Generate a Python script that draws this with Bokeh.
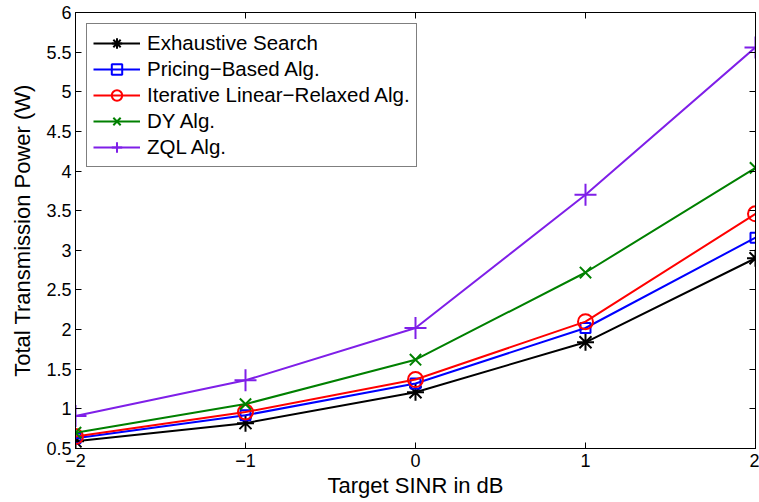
from bokeh.plotting import figure
from bokeh.models import Range1d, LinearAxis, FixedTicker, Legend
from bokeh.embed import file_html
from bokeh.resources import INLINE

x_vals = [-2, -1, 0, 1, 2]
exhaustive = [0.59, 0.82, 1.21, 1.84, 2.90]
pricing = [0.63, 0.92, 1.32, 2.02, 3.16]
iterative = [0.65, 0.96, 1.37, 2.10, 3.46]
dy = [0.70, 1.06, 1.62, 2.72, 4.04]
zql = [0.91, 1.36, 2.02, 3.70, 5.56]

series_names = ["Exhaustive Search", "Pricing\u2212Based Alg.",
                "Iterative Linear\u2212Relaxed Alg.", "DY Alg.", "ZQL Alg."]
x_ticks = [-2, -1, 0, 1, 2]
x_tick_labels = ["\u22122", "\u22121", "0", "1", "2"]
y_ticks = [0.5, 1, 1.5, 2, 2.5, 3, 3.5, 4, 4.5, 5, 5.5, 6]
y_tick_labels = ["0.5", "1", "1.5", "2", "2.5", "3", "3.5", "4", "4.5", "5", "5.5", "6"]

FONT = "Liberation Sans"

p = figure(width=759, height=502, output_backend="svg", toolbar_location=None,
           x_range=Range1d(-2, 2), y_range=Range1d(0.5, 6),
           min_border_left=75, min_border_right=4, min_border_top=12, min_border_bottom=54)
p.xgrid.visible = False
p.ygrid.visible = False
p.outline_line_color = "black"
p.outline_line_width = 1
p.outline_line_alpha = 1
p.background_fill_color = "white"
p.border_fill_color = "white"

for ax, ticks, labels in [(p.xaxis[0], x_ticks, x_tick_labels), (p.yaxis[0], y_ticks, y_tick_labels)]:
    ax.ticker = FixedTicker(ticks=ticks)
    ax.major_label_overrides = {t: l for t, l in zip(ticks, labels)}
    ax.major_tick_in = 6
    ax.major_tick_out = 0
    ax.minor_tick_in = 0
    ax.minor_tick_out = 0
    ax.axis_line_color = "black"
    ax.major_tick_line_color = "black"
    ax.major_label_text_font = FONT
    ax.major_label_text_font_size = "18px"
    ax.major_label_text_color = "black"
    ax.axis_label_text_font = FONT
    ax.axis_label_text_font_size = "22px"
    ax.axis_label_text_font_style = "normal"
    ax.axis_label_text_color = "black"

p.xaxis[0].axis_label = "Target SINR in dB"
p.yaxis[0].axis_label = "Total Transmission Power (W)"
p.xaxis[0].major_label_standoff = 5
p.yaxis[0].major_label_standoff = 4
p.xaxis[0].axis_label_standoff = 3
p.yaxis[0].axis_label_standoff = 8

for loc, ticks in [("right", y_ticks), ("above", x_ticks)]:
    ax = LinearAxis(ticker=FixedTicker(ticks=ticks))
    ax.major_label_overrides = {t: "" for t in ticks}
    ax.major_tick_in = 6
    ax.major_tick_out = 0
    ax.minor_tick_in = 0
    ax.minor_tick_out = 0
    ax.major_label_standoff = 0
    ax.axis_line_color = "black"
    p.add_layout(ax, loc)

styles = [
    (exhaustive, "black", "asterisk", 17, series_names[0]),
    (pricing, "#0000FF", "square", 10, series_names[1]),
    (iterative, "#FF0000", "circle", 15, series_names[2]),
    (dy, "#008000", "x", 16, series_names[3]),
    (zql, "#7F1FE8", "cross", 22, series_names[4]),
]

items = []
for ys, color, marker, size, name in styles:
    r1 = p.line(x_vals, ys, line_color=color, line_width=2)
    r2 = p.scatter(x_vals, ys, marker=marker, size=size, line_color=color,
                   fill_color=None, line_width=2)
    items.append((name, [r1, r2]))

legend = Legend(items=items, location="top_left")
legend.label_text_font = FONT
legend.label_text_font_size = "20.5px"
legend.label_text_color = "black"
legend.border_line_color = "black"
legend.border_line_width = 1
legend.background_fill_alpha = 1
legend.glyph_width = 47
legend.glyph_height = 26
legend.label_height = 26
legend.spacing = 0
legend.padding = 6
legend.margin = 11
legend.label_standoff = 7
p.add_layout(legend)

open("out.html", "w").write(file_html(p, INLINE))
